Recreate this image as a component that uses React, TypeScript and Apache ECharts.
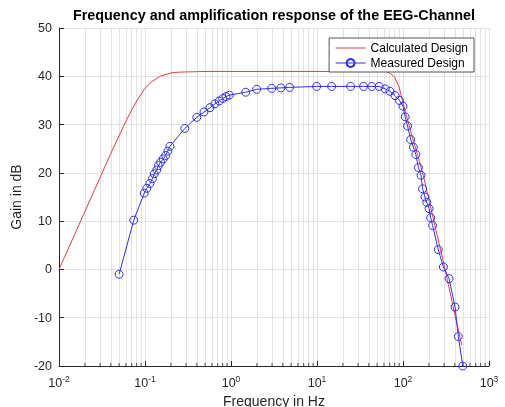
import React, { useEffect, useRef } from "react";
import * as echarts from "echarts";

const TITLE = "Frequency and amplification response of the EEG-Channel";
const X_NAME = "Frequency in Hz";
const Y_NAME = "Gain in dB";
const LEGEND_NAMES = ["Calculated Design", "Measured Design"];

const CALC_FREQ = [0.01, 0.015, 0.02, 0.03, 0.04, 0.05, 0.06, 0.07, 0.08, 0.1, 0.12, 0.15, 0.2, 0.25, 0.3, 0.4, 0.5, 1, 10, 50, 62, 70, 80, 90, 100, 115, 130, 150, 172, 200, 250, 300, 350, 400, 450, 482];
const CALC_GAIN = [0, 7, 12, 19, 24, 27.7, 30.7, 33, 34.9, 37.5, 38.9, 40, 40.7, 40.85, 40.9, 40.95, 41, 41, 41, 41, 41, 40.7, 39.8, 37.8, 34.5, 30.5, 27, 23.3, 19.5, 14.5, 7, 1, -4.5, -9.3, -13.3, -15.7];

const MEAS_FREQ = [0.05, 0.074, 0.098, 0.105, 0.114, 0.122, 0.128, 0.137, 0.143, 0.152, 0.163, 0.174, 0.184, 0.195, 0.29, 0.4, 0.485, 0.57, 0.65, 0.73, 0.8, 0.875, 0.955, 1.48, 1.99, 2.97, 3.8, 4.8, 9.9, 14.8, 24.6, 34.8, 43.3, 52.8, 62, 70.5, 80.8, 91, 100, 106, 113, 123, 132, 141, 151, 162, 169, 180, 189, 201, 210, 221, 257, 295, 343, 403, 440, 495];
const MEAS_GAIN = [-1.0, 10.2, 15.8, 16.8, 17.8, 18.8, 19.8, 20.6, 21.5, 22.2, 22.9, 23.6, 24.5, 25.5, 29.2, 31.5, 32.6, 33.5, 34.3, 34.9, 35.4, 35.8, 36.1, 36.7, 37.3, 37.5, 37.6, 37.7, 37.9, 37.9, 37.9, 37.9, 37.9, 37.9, 37.4, 36.9, 36.0, 35.0, 33.8, 31.6, 29.7, 26.9, 25.3, 23.8, 21.1, 19.5, 16.7, 15.0, 13.9, 12.6, 10.7, 9.1, 4.1, 0.5, -1.9, -7.8, -13.9, -20];

const X_MIN = 0.01;
const X_MAX = 1000;
const Y_MIN = -20;
const Y_MAX = 50;
const Y_STEP = 10;
const DECADES = [0.01, 0.1, 1, 10, 100];
const MINOR_MULT = [2, 3, 4, 5, 6, 7, 8, 9];

const FONT = "'Liberation Sans', Arial, Helvetica, sans-serif";
const AXIS_COLOR = "#262626";
const GRID_COLOR = "#e2e2e2";
const RED = "#e0403f";
const BLUE = "#2f2ff0";

export default function App() {
  const ref = useRef<HTMLDivElement>(null);
  useEffect(() => {
    if (!ref.current) return;
    const chart = echarts.init(ref.current, null, { renderer: "svg" });
    const minor: number[] = [];
    DECADES.forEach((d) => MINOR_MULT.forEach((m) => minor.push(+(d * m).toPrecision(6))));
    const calc = CALC_FREQ.map((f, i) => [f, CALC_GAIN[i]]);
    const meas = MEAS_FREQ.map((f, i) => [f, MEAS_GAIN[i]]);
    chart.setOption({
      animation: false,
      textStyle: { fontFamily: FONT },
      grid: { left: 59, right: 16, top: 28, bottom: 41, containLabel: false, outerBoundsMode: "none" },
      graphic: [
        {
          type: "text",
          x: 274,
          y: 8,
          z: 10,
          style: {
            text: TITLE,
            fill: "#000",
            font: `bold 14.4px ${FONT}`,
            align: "center",
            verticalAlign: "top",
          },
        },
      ],
      legend: {
        orient: "vertical",
        right: 31,
        top: 38,
        z: 10,
        backgroundColor: "#fff",
        borderColor: "#555",
        borderWidth: 1,
        borderRadius: 0,
        padding: [4, 6, 3, 6],
        itemGap: 3,
        itemWidth: 30,
        itemHeight: 10,
        data: [
          { name: LEGEND_NAMES[0], itemStyle: { opacity: 0 }, lineStyle: { width: 1, color: RED } },
          { name: LEGEND_NAMES[1], lineStyle: { width: 1, color: BLUE } },
        ],
        textStyle: { fontSize: 12, color: "#000", fontFamily: FONT },
      },
      xAxis: {
        type: "log",
        logBase: 10,
        min: X_MIN,
        max: X_MAX,
        name: X_NAME,
        nameLocation: "middle",
        nameGap: 28,
        nameTextStyle: { fontSize: 14, color: AXIS_COLOR, fontFamily: FONT },
        axisLine: { show: true, onZero: false, lineStyle: { color: AXIS_COLOR, width: 1 } },
        axisTick: { show: true, inside: true, length: 5, lineStyle: { color: AXIS_COLOR } },
        splitLine: { show: true, lineStyle: { color: GRID_COLOR, width: 1 } },
        axisLabel: {
          margin: 8,
          color: AXIS_COLOR,
          formatter: (v: number) => `{b|10}{s|${Math.round(Math.log10(v))}}`,
          rich: {
            b: { fontSize: 12.5, color: AXIS_COLOR, fontFamily: FONT },
            s: { fontSize: 8.5, color: AXIS_COLOR, fontFamily: FONT, padding: [0, 0, 9, 0] },
          },
        },
      },
      yAxis: {
        type: "value",
        min: Y_MIN,
        max: Y_MAX,
        interval: Y_STEP,
        name: Y_NAME,
        nameLocation: "middle",
        nameGap: 27,
        nameTextStyle: { fontSize: 14, color: AXIS_COLOR, fontFamily: FONT },
        axisLine: { show: true, onZero: false, lineStyle: { color: AXIS_COLOR, width: 1 } },
        axisTick: { show: true, inside: true, length: 5, lineStyle: { color: AXIS_COLOR } },
        splitLine: { show: true, lineStyle: { color: GRID_COLOR, width: 1 } },
        axisLabel: { margin: 7, fontSize: 12.5, color: AXIS_COLOR, fontFamily: FONT },
      },
      series: [
        {
          type: "scatter",
          name: "minor",
          data: minor.map((v) => [v, Y_MIN]),
          symbol: "rect",
          symbolSize: [1, 3],
          symbolOffset: [0, -1.5],
          itemStyle: { color: AXIS_COLOR },
          silent: true,
          z: 1,
          markLine: {
            silent: true,
            z: 1,
            symbol: ["none", "none"],
            label: { show: false },
            lineStyle: { color: GRID_COLOR, width: 1, type: "solid" },
            data: minor.map((v) => ({ xAxis: v })),
          },
        },
        {
          type: "line",
          name: LEGEND_NAMES[0],
          data: calc,
          showSymbol: false,
          symbol: "none",
          lineStyle: { color: RED, width: 1 },
          itemStyle: { color: RED },
          z: 3,
        },
        {
          type: "line",
          name: LEGEND_NAMES[1],
          data: meas,
          symbol: "circle",
          symbolSize: 8,
          lineStyle: { color: BLUE, width: 1 },
          itemStyle: { color: "rgba(0,0,0,0)", borderColor: BLUE, borderWidth: 1 },
          z: 4,
        },
      ],
    });
    return () => chart.dispose();
  }, []);
  return <div ref={ref} style={{ position: "fixed", left: 0, top: 0, width: 505, height: 407 }} />;
}
